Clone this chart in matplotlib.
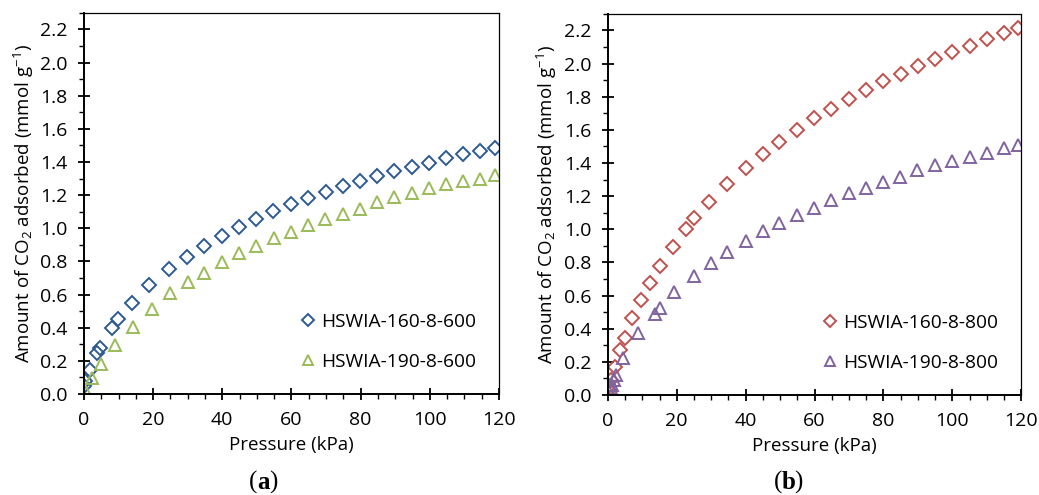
import matplotlib
matplotlib.use("Agg")
import matplotlib.pyplot as plt
from matplotlib.ticker import MultipleLocator, FormatStrFormatter

plt.rcParams["font.family"] = ["Open Sans", "DejaVu Sans"]
plt.rcParams["mathtext.fontset"] = "custom"
plt.rcParams["mathtext.rm"] = "Open Sans"
plt.rcParams["mathtext.it"] = "Open Sans:italic"
plt.rcParams["mathtext.bf"] = "Open Sans:bold"

# panel (a)
p_160_600 = [0.0, 0.3, 1.7, 3.9, 4.6, 8.0, 9.8, 13.8, 18.9, 24.7, 29.7, 34.7, 39.8, 44.7,
             49.7, 54.7, 59.8, 64.9, 69.9, 74.9, 79.9, 84.7, 89.7, 94.9, 99.8, 104.7,
             109.7, 114.6, 118.7]
q_160_600 = [0.048, 0.078, 0.145, 0.245, 0.28, 0.40, 0.45, 0.55, 0.657, 0.753, 0.828, 0.894,
             0.956, 1.009, 1.057, 1.105, 1.145, 1.181, 1.22, 1.254, 1.286, 1.316, 1.344,
             1.370, 1.396, 1.423, 1.447, 1.467, 1.485]
p_190_600 = [0.6, 2.4, 4.8, 9.1, 14.1, 19.8, 25.0, 30.0, 34.8, 40.0, 44.9, 49.7, 54.9, 59.9,
             64.7, 69.7, 74.8, 79.9, 84.7, 89.7, 94.9, 99.8, 104.7, 109.7, 114.6, 118.7]
q_190_600 = [0.014, 0.098, 0.179, 0.295, 0.406, 0.514, 0.607, 0.673, 0.733, 0.794, 0.850,
             0.894, 0.942, 0.976, 1.021, 1.059, 1.087, 1.117, 1.157, 1.188, 1.212, 1.242,
             1.268, 1.286, 1.300, 1.324]

# panel (b)
p_160_800 = [0.2, 0.4, 0.9, 2.1, 3.6, 5.0, 7.1, 9.6, 12.3, 15.0, 18.8, 22.6, 25.1, 29.5,
             34.7, 40.1, 45.0, 49.7, 54.9, 59.9, 64.8, 69.9, 75.0, 80.0, 85.0, 89.9, 94.9,
             100.0, 105.0, 109.9, 114.9, 118.9]
q_160_800 = [0.03, 0.054, 0.09, 0.167, 0.272, 0.346, 0.463, 0.574, 0.678, 0.779, 0.896,
             1.002, 1.067, 1.167, 1.274, 1.369, 1.453, 1.526, 1.602, 1.669, 1.727, 1.785,
             1.838, 1.892, 1.938, 1.983, 2.029, 2.069, 2.107, 2.148, 2.182, 2.212]
p_190_800 = [0.3, 0.8, 1.2, 1.7, 2.3, 4.5, 8.9, 13.7, 15.0, 19.3, 24.9, 29.9, 34.7, 40.1,
             45.0, 49.7, 54.9, 59.7, 64.7, 69.9, 74.9, 80.0, 84.9, 89.8, 94.9, 100.0, 105.0,
             109.9, 114.9, 118.9]
q_190_800 = [0.02, 0.04, 0.06, 0.09, 0.12, 0.221, 0.372, 0.487, 0.523, 0.62, 0.719, 0.795,
             0.862, 0.930, 0.988, 1.039, 1.087, 1.129, 1.176, 1.218, 1.252, 1.288, 1.318,
             1.355, 1.387, 1.415, 1.439, 1.463, 1.488, 1.506]

FS = 13.5

fig = plt.figure(figsize=(10.39, 4.95), dpi=100)
ax_a = fig.add_axes([0.0808, 0.204, 0.3995, 0.770])
ax_b = fig.add_axes([0.585, 0.202, 0.398, 0.770])


def style_axes(ax):
    ax.set_xlim(0, 120)
    ax.set_ylim(0, 2.3)
    ax.xaxis.set_major_locator(MultipleLocator(20))
    ax.xaxis.set_minor_locator(MultipleLocator(5))
    ax.yaxis.set_major_locator(MultipleLocator(0.2))
    ax.yaxis.set_minor_locator(MultipleLocator(0.1))
    ax.yaxis.set_major_formatter(FormatStrFormatter("%.1f"))
    ax.tick_params(which="major", direction="inout", length=8, width=1.3, labelsize=14,
                   top=False, right=False)
    ax.tick_params(axis="x", which="major", pad=8)
    ax.tick_params(axis="y", which="major", pad=8)
    ax.tick_params(which="minor", direction="out", length=3.5, width=1.0, top=False,
                   right=False)
    for side in ("left", "bottom"):
        ax.spines[side].set_linewidth(1.4)
    for side in ("top", "right"):
        ax.spines[side].set_linewidth(0.9)
    ax.set_xlabel("Pressure (kPa)", fontsize=FS, labelpad=5)
    ax.set_ylabel("Amount of CO$_2$ adsorbed (mmol g$^{-1}$)", fontsize=FS, labelpad=3)
    ax.legend(loc="lower right", frameon=False, fontsize=13.8, handlelength=0.8,
              handletextpad=0.3, labelspacing=1.15, borderaxespad=0.8, markerscale=0.85)


mk = dict(linestyle="none", markerfacecolor="none", markeredgewidth=1.4)
ax_a.plot(p_160_600, q_160_600, marker="D", markersize=7, color="#2E5A94",
          label="HSWIA-160-8-600", **mk)
ax_a.plot(p_190_600, q_190_600, marker="^", markersize=9, color="#9BBB59",
          label="HSWIA-190-8-600", **mk)
ax_b.plot(p_160_800, q_160_800, marker="D", markersize=7, color="#C0504D",
          label="HSWIA-160-8-800", **mk)
ax_b.plot(p_190_800, q_190_800, marker="^", markersize=9, color="#8064A2",
          label="HSWIA-190-8-800", **mk)

style_axes(ax_a)
style_axes(ax_b)

for x, letter in ((0.2475, "a"), (0.7525, "b")):
    fig.text(x, 0.013, "(", family="Liberation Serif", fontsize=18, ha="right", va="baseline")
    fig.text(x, 0.013, letter, family="Liberation Serif", fontsize=18, fontweight="bold",
             ha="left", va="baseline")
    fig.text(x + 0.0115, 0.013, ")", family="Liberation Serif", fontsize=18, ha="left",
             va="baseline")

fig.savefig("out.png", dpi=100)
